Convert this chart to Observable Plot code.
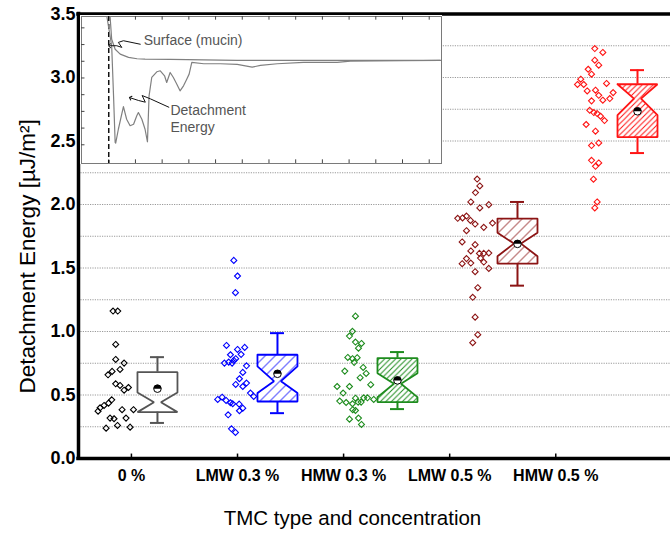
<!DOCTYPE html>
<html><head><meta charset="utf-8">
<script src="https://cdn.jsdelivr.net/npm/d3@7"></script>
<script src="https://cdn.jsdelivr.net/npm/@observablehq/plot@0.6"></script>
<style>
body{margin:0;background:#fff;overflow:hidden}
#wrap{position:relative;width:670px;height:548px}
#inset{position:absolute;left:80px;top:15px}
</style>
</head><body><div id="wrap"></div>
<script>
// ---------- data ----------
const categories = ["0 %", "LMW 0.3 %", "HMW 0.3 %", "LMW 0.5 %", "HMW 0.5 %"];
const tickPos = [-0.217, 0.667, 1.551, 2.435, 3.319];
const pointColors = ["#000000", "#0000ff", "#1e8c1e", "#8c1414", "#ff1414"];
const boxColors = ["#555555", "#0000ff", "#1e8c1e", "#8c1414", "#ff1414"];

const v0 = [1.161,1.161,0.898,0.78,0.751,0.701,0.686,0.659,0.588,0.575,0.559,0.538,0.462,0.436,0.418,0.399,0.373,0.384,0.384,0.318,0.313,0.318,0.26,0.239,0.247];
const j0 = [-0.370,-0.331,-0.348,-0.348,-0.278,-0.312,-0.378,-0.412,-0.348,-0.312,-0.242,-0.278,-0.381,-0.408,-0.445,-0.478,-0.495,-0.295,-0.200,-0.395,-0.362,-0.262,-0.333,-0.428,-0.228];
const v1 = [1.56,1.437,1.306,0.89,0.875,0.859,0.817,0.82,0.786,0.772,0.759,0.751,0.751,0.73,0.678,0.628,0.594,0.583,0.567,0.515,0.489,0.465,0.483,0.457,0.439,0.431,0.428,0.396,0.376,0.344,0.234,0.205];
const j1 = [-0.364,-0.333,-0.35,-0.425,-0.273,-0.333,-0.392,-0.303,-0.348,-0.364,-0.406,-0.442,-0.378,-0.258,-0.289,-0.317,-0.258,-0.348,-0.289,-0.225,-0.198,-0.498,-0.461,-0.428,-0.392,-0.373,-0.319,-0.289,-0.317,-0.411,-0.383,-0.35];
const v2 = [1.121,1.001,0.964,0.917,0.906,0.869,0.796,0.786,0.794,0.757,0.717,0.688,0.67,0.636,0.567,0.567,0.581,0.515,0.475,0.478,0.478,0.465,0.452,0.441,0.431,0.444,0.444,0.384,0.378,0.31,0.318,0.268];
const j2 = [-0.35,-0.375,-0.4,-0.35,-0.3,-0.325,-0.414,-0.375,-0.336,-0.361,-0.286,-0.439,-0.261,-0.311,-0.503,-0.4,-0.223,-0.453,-0.35,-0.281,-0.25,-0.198,-0.481,-0.428,-0.375,-0.303,-0.328,-0.373,-0.35,-0.4,-0.325,-0.3];
const v3 = [2.2,2.146,2.094,2.02,1.999,1.973,1.891,1.894,1.909,1.875,1.846,1.854,1.82,1.794,1.705,1.684,1.634,1.615,1.615,1.618,1.574,1.578,1.534,1.539,1.547,1.497,1.471,1.345,1.269,1.113,0.975,0.912];
const j3 = [-0.336,-0.314,-0.35,-0.389,-0.239,-0.314,-0.498,-0.458,-0.425,-0.392,-0.353,-0.208,-0.281,-0.425,-0.461,-0.353,-0.389,-0.317,-0.281,-0.239,-0.425,-0.308,-0.461,-0.389,-0.281,-0.239,-0.353,-0.331,-0.373,-0.353,-0.331,-0.373];
const v4 = [3.228,3.197,3.136,3.097,3.065,3.026,2.987,2.945,2.945,2.953,2.894,2.9,2.881,2.86,2.834,2.821,2.816,2.742,2.724,2.716,2.695,2.661,2.63,2.577,2.485,2.464,2.348,2.327,2.301,2.199,2.02,1.973];
const j4 = [-0.356,-0.289,-0.356,-0.323,-0.411,-0.383,-0.473,-0.5,-0.448,-0.258,-0.419,-0.35,-0.203,-0.323,-0.231,-0.289,-0.383,-0.398,-0.364,-0.336,-0.308,-0.275,-0.428,-0.35,-0.323,-0.383,-0.383,-0.323,-0.35,-0.367,-0.336,-0.356];

// notched box statistics per group
const whiskerLow  = [0.28, 0.357, 0.389, 1.361, 2.405];
const quart1      = [0.365, 0.449, 0.444, 1.534, 2.53];
const notchLow    = [0.365, 0.515, 0.483, 1.592, 2.703];
const median      = [0.443, 0.609, 0.588, 1.692, 2.834];
const notchHigh   = [0.52, 0.725, 0.672, 1.778, 2.947];
const quart3      = [0.68, 0.817, 0.79, 1.889, 2.947];
const whiskerHigh = [0.798, 0.987, 0.838, 2.02, 3.058];
const meanVal     = [0.55, 0.667, 0.615, 1.69, 2.734];
const hatchGap    = [0, 10, 5.5, 10, 5.5];

// inset (force curve) data
const surfT = [1.05,1.11,1.24,1.43,1.74,2.06,2.36,3.31,5.81,8.30,13.42];
const surfF = [7.68,6.32,5.72,5.43,5.23,5.15,5.13,5.11,5.05,5.05,5.05];
const detT = [0.93,1.11,1.18,1.24,1.26,1.36,1.55,1.67,1.80,1.93,2.05,2.11,2.24,2.36,2.45,2.51,2.61,2.80,2.93,3.09,3.17,3.30,3.42,3.55,3.67,3.80,3.92,4.01,4.11,4.56,5.18,5.81,6.37,6.68,7.31,8.29,9.55,10.05,12.05,13.42];
const detF = [7.68,5.93,2.93,0.14,0.10,0.93,2.28,1.53,1.14,1.23,1.74,1.93,1.53,0.93,0.18,2.93,4.03,4.37,4.43,4.13,3.73,4.33,4.03,3.63,3.23,3.53,3.93,4.23,4.93,4.85,4.85,4.81,4.65,4.75,4.85,4.93,4.93,5.01,5.03,5.05];
const arrow1T = [2.18,1.55,1.36,1.49,1.30,1.03];
const arrow1F = [6.02,6.23,6.13,5.83,5.93,5.93];
const arrow2T = [3.25,2.56,2.25,2.37,2.12,1.81];
const arrow2F = [2.25,2.75,2.95,2.55,2.65,2.81];

const yTitle = "Detachment Energy [µJ/m²]";
const xTitle = "TMC type and concentration";

// ---------- build ----------
const font = "'Liberation Sans', Arial, Helvetica, sans-serif";
const vals = [v0, v1, v2, v3, v4], jit = [j0, j1, j2, j3, j4];
const points = vals.flatMap((vs, g) => vs.map((v, k) => ({g, x: g + jit[g][k], v})));
const stats = categories.map((c, g) => ({g, c, wl: whiskerLow[g], q1: quart1[g], nl: notchLow[g], md: median[g], nh: notchHigh[g], q3: quart3[g], wh: whiskerHigh[g], mn: meanVal[g]}));

const hw = 20 / 120, ni = 16.5 / 120, cap = 7 / 120;
function boxPoly(s) {
  const c = s.g;
  return [[c-hw,s.q3],[c+hw,s.q3],[c+hw,s.nh],[c+hw-ni,s.md],[c+hw,s.nl],[c+hw,s.q1],[c-hw,s.q1],[c-hw,s.nl],[c-hw+ni,s.md],[c-hw,s.nh],[c-hw,s.q3]];
}
const halfTop = {draw(ctx, size) { const r = Math.sqrt(size / Math.PI); ctx.moveTo(-r, 0); ctx.arc(0, 0, r, Math.PI, 2 * Math.PI); ctx.closePath(); }};

const xmin = -0.658, xmax = 4.275;
const boxMarks = stats.map(s => Plot.line(boxPoly(s), {x: d => d[0], y: d => d[1], stroke: boxColors[s.g], strokeWidth: 1.8, fill: hatchGap[s.g] ? `url(#hatch${s.g})` : "none", strokeLinejoin: "miter"}));

const main = Plot.plot({
  width: 670, height: 548, marginLeft: 78, marginRight: 0, marginTop: 13.5, marginBottom: 90,
  x: {domain: [xmin, xmax]}, y: {domain: [0, 3.5]}, color: {type: "identity"},
  style: {fontFamily: font, background: "white", color: "black"},
  marks: [
    Plot.ruleY(d3.range(0.25, 3.5, 0.25), {stroke: "#9a9a9a", strokeDasharray: "1.2,1.2", strokeWidth: 1}),
    ...boxMarks,
    Plot.ruleX(stats, {x: "g", y1: "q3", y2: "wh", stroke: d => boxColors[d.g], strokeWidth: 2}),
    Plot.ruleX(stats, {x: "g", y1: "q1", y2: "wl", stroke: d => boxColors[d.g], strokeWidth: 2}),
    Plot.ruleY(stats, {y: "wh", x1: d => d.g - cap, x2: d => d.g + cap, stroke: d => boxColors[d.g], strokeWidth: 2}),
    Plot.ruleY(stats, {y: "wl", x1: d => d.g - cap, x2: d => d.g + cap, stroke: d => boxColors[d.g], strokeWidth: 2}),
    Plot.dot(points, {x: "x", y: "v", symbol: "diamond2", r: 2.7, stroke: d => pointColors[d.g], strokeWidth: 1.1, fill: "none"}),
    Plot.dot(stats, {x: "g", y: "mn", r: 3.8, fill: "white", stroke: "black", strokeWidth: 1}),
    Plot.dot(stats, {x: "g", y: "mn", r: 3.8, symbol: halfTop, fill: "black", stroke: "none"}),
    Plot.ruleY([0, 3.5], {strokeWidth: 3.5, stroke: "black", strokeLinecap: "square"}),
    Plot.ruleX([xmin], {strokeWidth: 3.5, stroke: "black", strokeLinecap: "square"}),
    Plot.ruleX(tickPos, {y1: 0, y2: 0.035, stroke: "black", strokeWidth: 1.5}),
    Plot.axisY({ticks: d3.range(0, 3.51, 0.5), tickFormat: d3.format(".1f"), tickSize: 0, tickPadding: 3, fontSize: 18, fontWeight: "bold", label: null}),
    Plot.axisX({ticks: tickPos, tickFormat: d => categories[tickPos.indexOf(d)], tickSize: 0, tickPadding: 11, fontSize: 16, fontWeight: "bold", label: null}),
    Plot.text([xTitle], {text: d => d, frameAnchor: "bottom", dx: -22, dy: 66.5, fontSize: 20.5}),
    Plot.text([yTitle], {text: d => d, x: xmin, y: 1.592, rotate: -90, dx: -51, fontSize: 22.5})
  ]
});

// hatch patterns
const defs = d3.select(main).insert("defs", ":first-child");
hatchGap.forEach((s, g) => {
  if (!s) return;
  const p = defs.append("pattern").attr("id", `hatch${g}`).attr("patternUnits", "userSpaceOnUse").attr("width", s).attr("height", s);
  p.append("rect").attr("width", s).attr("height", s).attr("fill", "white");
  p.append("path").attr("d", `M0,${s}L${s},0M${-s/2},${s/2}L${s/2},${-s/2}M${s/2},${s*1.5}L${s*1.5},${s/2}`)
    .attr("stroke", boxColors[g]).attr("stroke-width", 1);
});

const surf = surfT.map((t, i) => ({t, f: surfF[i]}));
const det = detT.map((t, i) => ({t, f: detF[i]}));
const a1 = arrow1T.map((t, i) => ({t, f: arrow1F[i]}));
const a2 = arrow2T.map((t, i) => ({t, f: arrow2F[i]}));
const iy0 = -1.12, iy1 = 7.68, ix0 = -0.02, ix1 = 13.46;

const inset = Plot.plot({
  width: 362, height: 149, margin: 1,
  x: {domain: [ix0, ix1], axis: null}, y: {domain: [iy0, iy1], axis: null},
  style: {fontFamily: font, background: "white", color: "black"},
  marks: [
    Plot.frame({fill: "white", stroke: "#7a7a7a", strokeWidth: 1}),
    Plot.ruleX(d3.range(1, 14), {y1: iy1, y2: iy1 - 0.22, stroke: "#444"}),
    Plot.ruleX(d3.range(1, 14), {y1: iy0, y2: iy0 + 0.22, stroke: "#444"}),
    Plot.ruleY(d3.range(0, 8), {x1: ix0, x2: ix0 + 0.13, stroke: "#444"}),
    Plot.ruleX([1], {stroke: "#111", strokeWidth: 1.5, strokeDasharray: "5,3"}),
    Plot.line(surf, {x: "t", y: "f", stroke: "#808080", strokeWidth: 1.2, clip: true}),
    Plot.line(det, {x: "t", y: "f", stroke: "#808080", strokeWidth: 1.2, clip: true}),
    Plot.line(a1, {x: "t", y: "f", stroke: "#111", strokeWidth: 1, markerEnd: "arrow"}),
    Plot.line(a2, {x: "t", y: "f", stroke: "#111", strokeWidth: 1, markerEnd: "arrow"}),
    Plot.text(["Surface (mucin)"], {text: d => d, x: 2.31, y: 6.23, textAnchor: "start", fontSize: 14, fill: "#555"}),
    Plot.text(["Detachment\nEnergy"], {text: d => d, x: 3.31, y: 2.5, textAnchor: "start", lineAnchor: "top", lineHeight: 1.2, fontSize: 14, fill: "#555"})
  ]
});
inset.id = "inset";

const wrap = document.getElementById("wrap");
wrap.appendChild(main);
wrap.appendChild(inset);
</script>
</body></html>
